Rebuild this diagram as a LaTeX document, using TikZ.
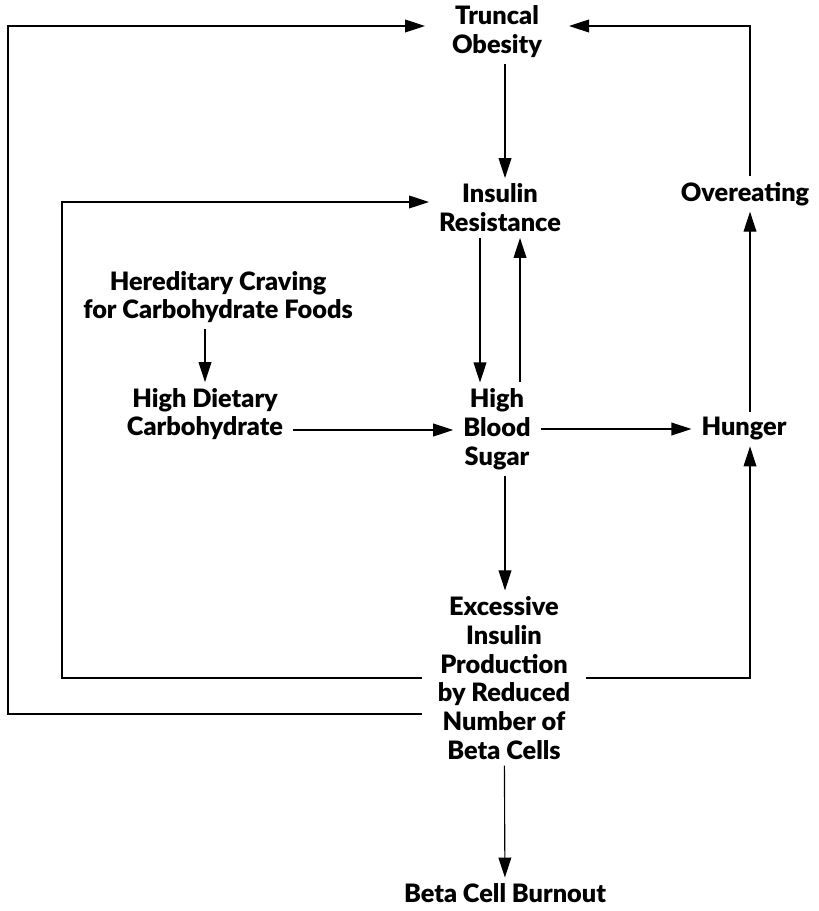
\documentclass[tikz,border=0pt]{standalone}
\usepackage{fontspec}
\setmainfont{Lato}[BoldFont={Lato Black}]
\usetikzlibrary{arrows.meta,positioning}
\tikzset{
  lbl/.style={align=center,font=\fontsize{18}{20.5}\selectfont\bfseries,inner xsep=7pt,inner ysep=4pt},
  flow/.style={-{Triangle[length=5mm,width=3.2mm]},line width=0.8pt},
}

\begin{document}
\begin{tikzpicture}[x=0.025cm,y=-0.025cm]
\useasboundingbox (0,0) rectangle (818,911);

% nodes
\node[lbl,inner xsep=19pt] (obes) at (497,32) {Truncal\\Obesity};
\node[lbl] (res) at (500,208) {Insulin\\Resistance};
\node[lbl] (over) at (745,194) {Overeating};
\node[lbl] (crav) at (218,297) {Hereditary Craving\\for Carbohydrate Foods};
\node[lbl] (diet) at (205,414) {High Dietary\\Carbohydrate};
\node[lbl] (sugar) at (497,429) {High\\Blood\\Sugar};
\node[lbl] (hung) at (744,429) {Hunger};
\node[lbl,inner xsep=11pt] (exc) at (504,678) {Excessive\\Insulin\\Production\\by Reduced\\Number of\\Beta Cells};
\node[lbl] (burn) at (505,893) {Beta Cell Burnout};

% loop corners
\coordinate (outer) at (8,0);
\coordinate (inner) at (62,0);

% connectors
\draw[flow] ([xshift=0.2cm]obes.south) -- ([xshift=0.2cm]obes.south |- res.north);
\draw[flow] ([xshift=-0.5cm]res.south) -- ([xshift=-0.5cm]res.south |- sugar.north);
\draw[flow] ([xshift=0.575cm]sugar.north) -- ([xshift=0.575cm]sugar.north |- res.south);
\draw[flow] (crav.south -| diet) -- (diet.north);
\draw[flow] ([yshift=-0.4cm]diet.east) -- ([yshift=-0.4cm]diet.east -| sugar.west);
\draw[flow] (sugar) -- (hung);
\draw[flow] ([xshift=0.2cm]sugar.south) -- ([xshift=0.2cm]sugar.south |- exc.north);
\draw[flow] (exc) -- (burn);
\draw[flow] ([xshift=0.15cm]hung.north) -- ([xshift=0.15cm]hung.north |- over.south);
\draw[flow] ([xshift=0.125cm]over.north) |- ([yshift=0.15cm]obes.east);
\draw[flow] (exc.east) -| ([xshift=0.15cm]hung.south);
\draw[flow] (exc.west) -- (exc.west -| inner) |- ([yshift=0.15cm]res.west);
\draw[flow] ([yshift=-0.9cm]exc.west) coordinate (a) -- (a -| outer) |- ([yshift=0.15cm]obes.west);
\end{tikzpicture}
\end{document}
